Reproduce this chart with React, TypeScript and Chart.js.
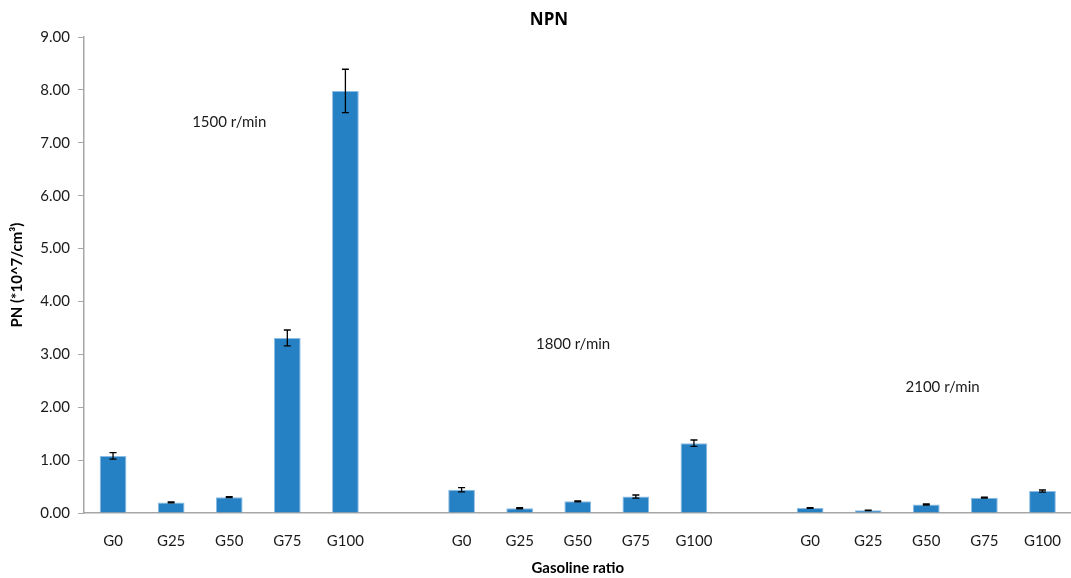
import React, { useEffect, useRef } from 'react';
import { Chart, registerables } from 'chart.js';

Chart.register(...registerables);

const categories = ['G0', 'G25', 'G50', 'G75', 'G100', '', 'G0', 'G25', 'G50', 'G75', 'G100', '', 'G0', 'G25', 'G50', 'G75', 'G100'];
const values = [1.08, 0.2, 0.3, 3.31, 7.98, null, 0.44, 0.09, 0.22, 0.31, 1.32, null, 0.095, 0.05, 0.16, 0.29, 0.415];
const errors = [0.06, 0.01, 0.01, 0.15, 0.41, null, 0.04, 0.01, 0.01, 0.03, 0.06, null, 0.006, 0.005, 0.01, 0.01, 0.02];
const speedLabels = ['1500 r/min', '1800 r/min', '2100 r/min'];
const speedLabelIndex = [2.0, 7.92, 14.28];
const speedLabelValue = [7.39, 3.2, 2.37];
const yMin = 0;
const yMax = 9;
const yStep = 1;

const FONT = 'Lato, "Open Sans", sans-serif';

export default function App() {
  const ref = useRef<HTMLCanvasElement | null>(null);

  useEffect(() => {
    if (!ref.current) return;
    document.body.style.margin = '0';
    document.body.style.overflow = 'hidden';

    const overlay = {
      id: 'overlay',
      afterDatasetsDraw(chart: any) {
        const ctx = chart.ctx;
        const xs = chart.scales.x;
        const ys = chart.scales.y;
        const meta = chart.getDatasetMeta(0);
        ctx.save();
        // error bars
        ctx.strokeStyle = '#000';
        ctx.lineWidth = 1.3;
        values.forEach((v, i) => {
          const e = errors[i];
          if (v == null || e == null) return;
          const bar = meta.data[i];
          const x = bar.x;
          const yTop = ys.getPixelForValue(v + e);
          const yBot = ys.getPixelForValue(v - e);
          ctx.beginPath();
          ctx.moveTo(x, yTop);
          ctx.lineTo(x, yBot);
          ctx.moveTo(x - 3.5, yTop);
          ctx.lineTo(x + 3.5, yTop);
          ctx.moveTo(x - 3.5, yBot);
          ctx.lineTo(x + 3.5, yBot);
          ctx.stroke();
        });
        // speed annotations
        ctx.fillStyle = '#1a1a1a';
        ctx.font = 'normal 400 15px ' + FONT;
        ctx.textAlign = 'center';
        ctx.textBaseline = 'middle';
        speedLabels.forEach((t, i) => {
          ctx.fillText(t, xs.getPixelForValue(speedLabelIndex[i]), ys.getPixelForValue(speedLabelValue[i]));
        });
        // chart title
        ctx.fillStyle = '#000';
        ctx.font = 'bold 17px "Open Sans", sans-serif';
        ctx.fillText('NPN', 549, 20);
        ctx.restore();
      },
    };

    const chart = new Chart(ref.current, {
      type: 'bar',
      data: {
        labels: categories,
        datasets: [
          {
            data: values as any,
            backgroundColor: '#2581C4',
            borderColor: '#8DBBE3',
            borderWidth: 1,
            categoryPercentage: 1,
            barPercentage: 0.46,
          },
        ],
      },
      options: {
        animation: false,
        responsive: false,
        maintainAspectRatio: false,
        layout: { padding: { top: 37, right: 0, left: 0, bottom: 0 } },
        plugins: {
          legend: { display: false },
          title: { display: false },
          tooltip: { enabled: false },
        },
        scales: {
          x: {
            grid: { display: false, drawTicks: false },
            border: { display: true, color: '#A6A6A6', width: 1.5 },
            ticks: {
              color: '#1a1a1a',
              font: { family: FONT, size: 15 },
              padding: 19,
              maxRotation: 0,
              autoSkip: false,
            },
            title: {
              display: true,
              text: 'Gasoline ratio',
              color: '#000',
              font: { family: FONT, size: 15, weight: 'bold' },
              padding: { top: 0, bottom: 1 },
            },
            afterFit(scale: any) {
              scale.height = 65;
            },
          },
          y: {
            min: yMin,
            max: yMax,
            grid: {
              display: true,
              drawOnChartArea: false,
              drawTicks: true,
              tickLength: 6,
              color: '#A6A6A6',
            },
            border: { display: true, color: '#A6A6A6', width: 1.5 },
            ticks: {
              stepSize: yStep,
              color: '#1a1a1a',
              font: { family: FONT, size: 15 },
              padding: 8,
              callback: (v: any) => Number(v).toFixed(2),
            },
            title: {
              display: true,
              text: 'PN (*10^7/cm³)',
              color: '#000',
              font: { family: FONT, size: 15, weight: 'bold' },
              padding: { top: 8, bottom: 0 },
            },
            afterFit(scale: any) {
              scale.width = 84;
            },
          },
        },
      },
      plugins: [overlay],
    });
    return () => chart.destroy();
  }, []);

  return (
    <div style={{ position: 'fixed', left: 0, top: 0, width: 1071, height: 578, overflow: 'hidden', background: '#fff' }}>
      <canvas ref={ref} width={1080} height={578} style={{ display: 'block', width: 1080, height: 578 }} />
    </div>
  );
}
